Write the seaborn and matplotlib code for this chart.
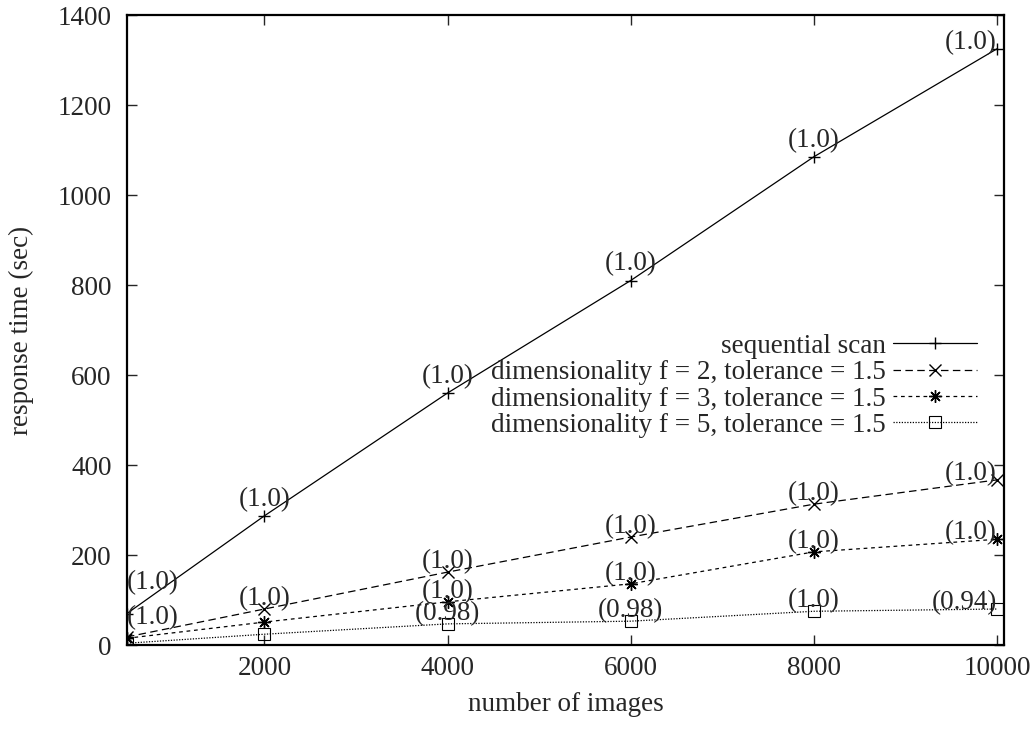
import numpy as np
import pandas as pd
import matplotlib
matplotlib.use('Agg')
import matplotlib.pyplot as plt
import seaborn as sns

# data
n_images = [500, 2000, 4000, 6000, 8000, 10000]
seq_scan = [70, 287, 560, 810, 1085, 1325]
dim_f2 = [18, 80, 162, 240, 313, 367]
dim_f3 = [15, 51, 96, 136, 207, 235]
dim_f5 = [4, 24, 47, 53, 75, 80]

seq_labels = ['(1.0)', '(1.0)', '(1.0)', '(1.0)', '(1.0)', '(1.0)']
f2_labels = ['(1.0)', '(1.0)', '(1.0)', '(1.0)', '(1.0)', '(1.0)']
f3_labels = [None, None, '(1.0)', '(1.0)', '(1.0)', '(1.0)']
f5_labels = [None, None, '(0.98)', '(0.98)', '(1.0)', '(0.94)']

series_names = [
    'sequential scan',
    'dimensionality f = 2, tolerance = 1.5',
    'dimensionality f = 3, tolerance = 1.5',
    'dimensionality f = 5, tolerance = 1.5',
]

FS = 19.5

sns.set_theme(style='ticks')
plt.rcParams['font.family'] = ['Liberation Serif', 'DejaVu Serif']
plt.rcParams['font.size'] = FS

fig = plt.figure(figsize=(10.33, 7.3), dpi=100)
ax = fig.add_axes([0.1229, 0.1164, 0.8490, 0.8630])

styles = [
    dict(marker='+', linestyle='-', ms=9, mew=1.0),
    dict(marker='x', dashes=(6, 3.5), ms=8, mew=1.0),
    dict(marker=(8, 2, 0), dashes=(3, 3), ms=9, mew=1.0),
    dict(marker='s', dashes=(1, 1.2), ms=8, mew=0.8, mfc='none'),
]
all_vals = [seq_scan, dim_f2, dim_f3, dim_f5]
all_labels = [seq_labels, f2_labels, f3_labels, f5_labels]
label_offsets = [12, 7.5, 7.5, 7.5]

for name, vals, st in zip(series_names, all_vals, styles):
    sns.lineplot(x=n_images, y=vals, ax=ax, color='black', lw=0.9,
                 label=name, mec='black', **st)

# ratio annotations (gnuplot-style labels next to each point)
for vals, labs, off in zip(all_vals, all_labels, label_offsets):
    for i, (xv, yv, lab) in enumerate(zip(n_images, vals, labs)):
        if lab is None:
            continue
        if i == 0:
            ha, dy = 'left', off * 1.85
        elif i == len(n_images) - 1:
            ha, dy = 'right', 4.5
        else:
            ha, dy = 'center', off
        ax.annotate(lab, xy=(xv, yv), xytext=(0, dy),
                    textcoords='offset points', ha=ha, va='center',
                    fontsize=FS)

ax.set_xlim(500, 10076)
ax.set_ylim(0, 1400)
ax.set_xticks([2000, 4000, 6000, 8000, 10000])
ax.set_yticks(np.arange(0, 1401, 200))
ax.tick_params(direction='in', top=True, right=True, length=7, width=1,
               labelsize=FS)
ax.tick_params(axis='x', pad=8)
ax.tick_params(axis='y', pad=11)
for sp in ax.spines.values():
    sp.set_linewidth(1.6)
    sp.set_color('black')

ax.set_xlabel('number of images', fontsize=FS, labelpad=8)
ax.set_ylabel('response time (sec)', fontsize=FS, labelpad=17)

leg = ax.legend(loc='upper right', bbox_to_anchor=(0.969, 0.494),
                frameon=False, markerfirst=False, handlelength=3.1,
                handletextpad=0.25, labelspacing=0.05, borderpad=0,
                borderaxespad=0, fontsize=FS)
# right-align the rows, gnuplot style
for col in leg._legend_handle_box.get_children():
    col.align = 'right'

fig.savefig('out.png', dpi=100)
